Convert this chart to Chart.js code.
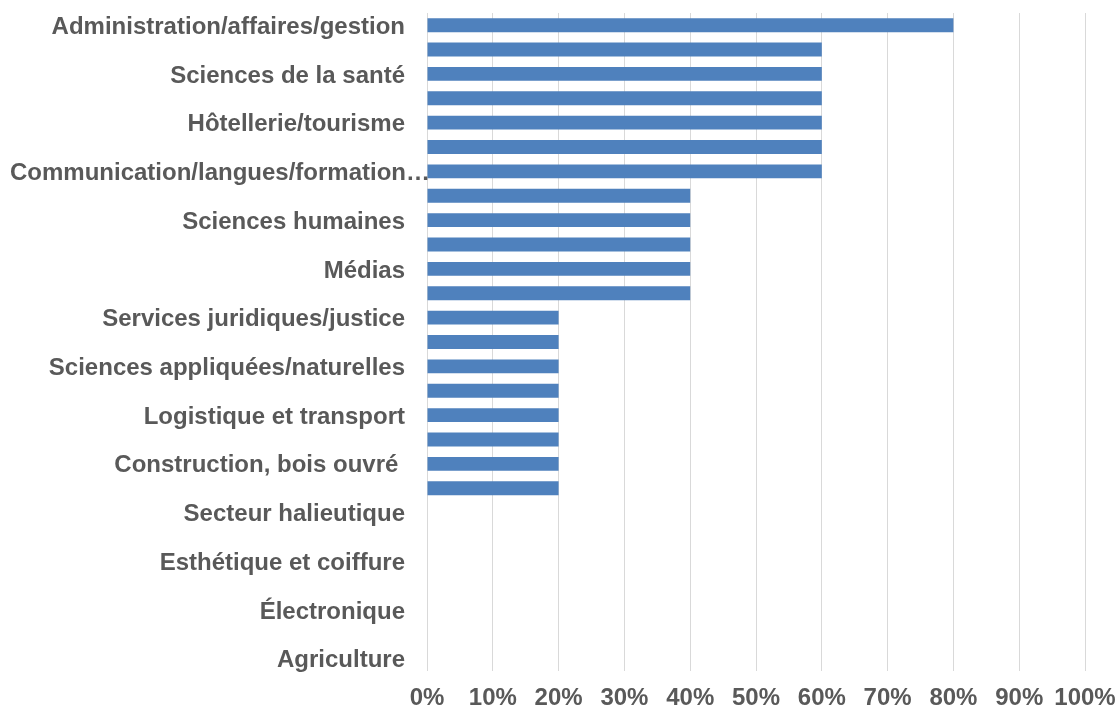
<!DOCTYPE html>
<html>
<head>
<meta charset="utf-8">
<script src="https://cdn.jsdelivr.net/npm/chart.js@4/dist/chart.umd.min.js"></script>
<style>
  html, body { margin: 0; padding: 0; background: #ffffff; }
  #wrap { width: 1119px; height: 712px; }
</style>
</head>
<body>
<div id="wrap"><canvas id="c" width="1119" height="712"></canvas></div>
<script>
// Programmes d'études (une étiquette sur deux est affichée sur l'axe)
const categories = [
  "Administration/affaires/gestion",
  "Informatique",
  "Sciences de la santé",
  "Éducation",
  "Hôtellerie/tourisme",
  "Arts et culture",
  "Communication/langues/formation…",
  "Services sociaux",
  "Sciences humaines",
  "Finances/comptabilité",
  "Médias",
  "Vente/marketing",
  "Services juridiques/justice",
  "Génie/ingénierie",
  "Sciences appliquées/naturelles",
  "Sécurité publique",
  "Logistique et transport",
  "Environnement",
  "Construction, bois ouvré ",
  "Mécanique",
  "Secteur halieutique",
  "Alimentation/restauration",
  "Esthétique et coiffure",
  "Foresterie",
  "Électronique",
  "Mines",
  "Agriculture"
];

// Pourcentage des répondants
const values = [
  80, 60, 60, 60, 60, 60, 60,
  40, 40, 40, 40, 40,
  20, 20, 20, 20, 20, 20, 20, 20,
  0, 0, 0, 0, 0, 0, 0
];

const xTicks = [0, 10, 20, 30, 40, 50, 60, 70, 80, 90, 100];

const FONT = "'Liberation Sans', Arial, sans-serif";
const TEXT_GREY = "#595959";

// Étiquettes de l'axe des catégories : une sur deux, alignées à droite,
// ramenées au bord gauche lorsqu'elles sont trop longues.
const categoryLabels = {
  id: "categoryLabels",
  afterDraw(chart) {
    const ctx = chart.ctx;
    const y = chart.scales.y;
    const right = chart.chartArea.left - 22;
    ctx.save();
    ctx.font = "bold 24px " + FONT;
    ctx.fillStyle = TEXT_GREY;
    ctx.textBaseline = "middle";
    categories.forEach((label, i) => {
      if (i % 2 !== 0) return;
      const py = y.getPixelForTick(i) + 2;
      const w = ctx.measureText(label).width;
      if (w > right - 10) {
        ctx.textAlign = "left";
        ctx.fillText(label, 10, py);
      } else {
        ctx.textAlign = "right";
        ctx.fillText(label, right, py);
      }
    });
    ctx.restore();
  }
};

new Chart(document.getElementById("c"), {
  type: "bar",
  data: {
    labels: categories,
    datasets: [{
      data: values,
      backgroundColor: "#4f81bd",
      borderWidth: 0,
      barPercentage: 0.57,
      categoryPercentage: 1.0
    }]
  },
  options: {
    indexAxis: "y",
    responsive: false,
    animation: false,
    layout: { padding: { top: 13, right: 0, left: 0, bottom: 0 } },
    plugins: {
      legend: { display: false },
      tooltip: { enabled: false }
    },
    scales: {
      x: {
        type: "linear",
        min: 0,
        max: 100,
        afterBuildTicks(scale) {
          scale.ticks = xTicks.map(v => ({ value: v }));
        },
        afterFit(scale) {
          scale.height = 41;
          scale.paddingLeft = 0;
          scale.paddingRight = 34;
        },
        border: { display: false },
        grid: { color: "#d9d9d9", lineWidth: 1, drawTicks: false },
        ticks: {
          padding: 13,
          autoSkip: false,
          maxRotation: 0,
          minRotation: 0,
          color: TEXT_GREY,
          font: { family: FONT, size: 24, weight: "bold" },
          callback: v => v + "%"
        }
      },
      y: {
        type: "category",
        offset: true,
        afterFit(scale) { scale.width = 427; },
        border: { display: false },
        grid: { display: false, drawTicks: false },
        ticks: { display: false }
      }
    }
  },
  plugins: [categoryLabels]
});
</script>
</body>
</html>
